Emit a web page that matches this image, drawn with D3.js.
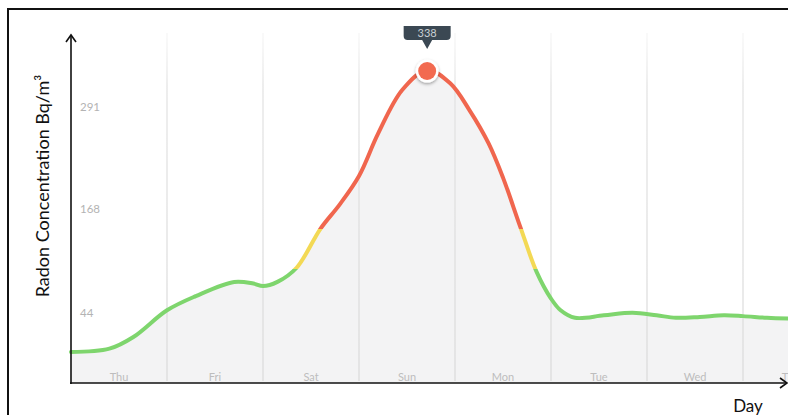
<!DOCTYPE html>
<html><head><meta charset="utf-8">
<script src="https://cdn.jsdelivr.net/npm/d3@7"></script>
<style>
html,body{margin:0;padding:0;background:#fff;}
svg{display:block;}
</style></head>
<body>
<svg id="c" width="788" height="415"></svg>
<script>
// ---- data ----
const dayLabels = ["Thu","Fri","Sat","Sun","Mon","Tue","Wed","Thu"];
const yTicks = [44, 168, 291];
const timeDays = [0,0.4,0.65,1.0,1.3,1.7,1.9,2.0,2.15,2.35,2.6,2.8,3.0,3.2,3.45,3.71,3.95,4.15,4.35,4.5,4.68,4.85,5.0,5.1,5.25,5.55,5.85,6.1,6.3,6.55,6.8,7.0,7.25,7.47];
const radon    = [0,4,18,50,67,84,82,79,84,101,148,177,211,262,314,338,322,290,250,209,150,96,64,50,41,44,47,44,41,42,44,43,41,40];
const thresholds = [100, 148];
const peakValue = 338;
const peakTime = 3.71;

const svg = d3.select("#c");
const x = d3.scaleLinear().domain([0, 8]).range([71, 839]);
const y = d3.scaleLinear().domain([0, 338]).range([352, 70]);
const axisY = 383, topY = 33;

// outer frame
svg.append("path").attr("d","M8,415 L8,9 L790,9").attr("fill","none").attr("stroke","#111").attr("stroke-width",2);

const pts = timeDays.map((t,i)=>({t, v: radon[i]}));

// area
const area = d3.area().x(d=>x(d.t)).y0(axisY).y1(d=>y(d.v)).curve(d3.curveCatmullRom.alpha(0.5));
svg.append("path").datum(pts).attr("d",area).attr("fill","#f3f3f4");

// grid lines
const grid = d3.range(1,8);
const defs = svg.append("defs");
const gg = defs.append("linearGradient").attr("id","gridfade")
  .attr("gradientUnits","userSpaceOnUse").attr("x1",0).attr("x2",0).attr("y1",topY).attr("y2",axisY);
gg.append("stop").attr("offset",0).attr("stop-color","#e8e8e8").attr("stop-opacity",0.4);
gg.append("stop").attr("offset",0.15).attr("stop-color","#e2e2e2").attr("stop-opacity",1);
gg.append("stop").attr("offset",1).attr("stop-color","#dadada").attr("stop-opacity",1);
svg.append("g").selectAll("rect").data(grid).join("rect")
  .attr("x",d=>x(d)-0.6).attr("width",1.2).attr("y",topY).attr("height",axisY-2-topY)
  .attr("fill","url(#gridfade)");

// day labels
svg.append("g").selectAll("text").data(dayLabels).join("text")
  .attr("x",(d,i)=>x(i+0.5)).attr("y",381).attr("text-anchor","middle")
  .attr("font-family","Lato, sans-serif").attr("font-size",11).attr("fill","#bdbdbd")
  .text(d=>d);

// y tick labels
svg.append("g").selectAll("text").data(yTicks).join("text")
  .attr("x",80).attr("y",d=>y(d)+1.5).attr("text-anchor","start")
  .attr("font-family","Lato, sans-serif").attr("font-size",11.5).attr("fill","#b3b3b3")
  .text(d=>d);

// line gradient by thresholds
const lg = defs.append("linearGradient").attr("id","lvl")
  .attr("gradientUnits","userSpaceOnUse").attr("x1",0).attr("x2",0).attr("y1",y(0)).attr("y2",y(338));
const off = v => v/338;
const stops = [[0,"#7ed56d"],[off(thresholds[0]),"#7ed56d"],[off(thresholds[0]),"#f3d955"],[off(thresholds[1]),"#f3d955"],[off(thresholds[1]),"#f0664e"],[1,"#f0664e"]];
lg.selectAll("stop").data(stops).join("stop").attr("offset",d=>d[0]).attr("stop-color",d=>d[1]);

const line = d3.line().x(d=>x(d.t)).y(d=>y(d.v)).curve(d3.curveCatmullRom.alpha(0.5));
svg.append("path").datum(pts).attr("d",line).attr("fill","none")
  .attr("stroke","url(#lvl)").attr("stroke-width",4).attr("stroke-linecap","round");

// axes
svg.append("line").attr("x1",71).attr("x2",71).attr("y1",axisY+1).attr("y2",35).attr("stroke","#111").attr("stroke-width",1.6);
svg.append("path").attr("d","M66,42 L71,35 L76,42").attr("fill","none").attr("stroke","#111").attr("stroke-width",1.6);
svg.append("line").attr("x1",70).attr("x2",787).attr("y1",axisY).attr("y2",axisY).attr("stroke","#111").attr("stroke-width",1.6);
svg.append("path").attr("d","M780,378 L787,383 L780,388").attr("fill","none").attr("stroke","#111").attr("stroke-width",1.6);

// axis titles
svg.append("text").attr("transform","translate(49,186) rotate(-90)").attr("text-anchor","middle")
  .attr("font-family","Lato, sans-serif").attr("font-size",18).attr("fill","#111")
  .text("Radon Concentration Bq/m³");
svg.append("text").attr("x",748).attr("y",412).attr("text-anchor","middle")
  .attr("font-family","Lato, sans-serif").attr("font-size",17).attr("fill","#111").text("Day");

// peak marker
const px = x(peakTime), py = y(peakValue);
const flt = defs.append("filter").attr("id","sh").attr("x","-50%").attr("y","-50%").attr("width","200%").attr("height","200%");
flt.append("feDropShadow").attr("dx",0).attr("dy",1.5).attr("stdDeviation",1.5).attr("flood-color","#000").attr("flood-opacity",0.35);
svg.append("circle").attr("cx",px).attr("cy",py+1).attr("r",11.5).attr("fill","#fff").attr("filter","url(#sh)");
svg.append("circle").attr("cx",px).attr("cy",py+1).attr("r",9).attr("fill","#f26a50");

// tooltip
const bw = 47, bh = 14, bt = 26;
svg.append("path").attr("d",
  `M${px-bw/2},${bt} H${px+bw/2} V${bt+bh-4} Q${px+bw/2},${bt+bh} ${px+bw/2-4},${bt+bh} H${px+5} L${px},${bt+bh+9} L${px-5},${bt+bh} H${px-bw/2+4} Q${px-bw/2},${bt+bh} ${px-bw/2},${bt+bh-4} Z`)
  .attr("fill","#3b4853");
svg.append("text").attr("x",px).attr("y",bt+10.5).attr("text-anchor","middle")
  .attr("font-family","Lato, sans-serif").attr("font-size",11).attr("fill","#c9cfd4").text(peakValue);
</script>
</body></html>
